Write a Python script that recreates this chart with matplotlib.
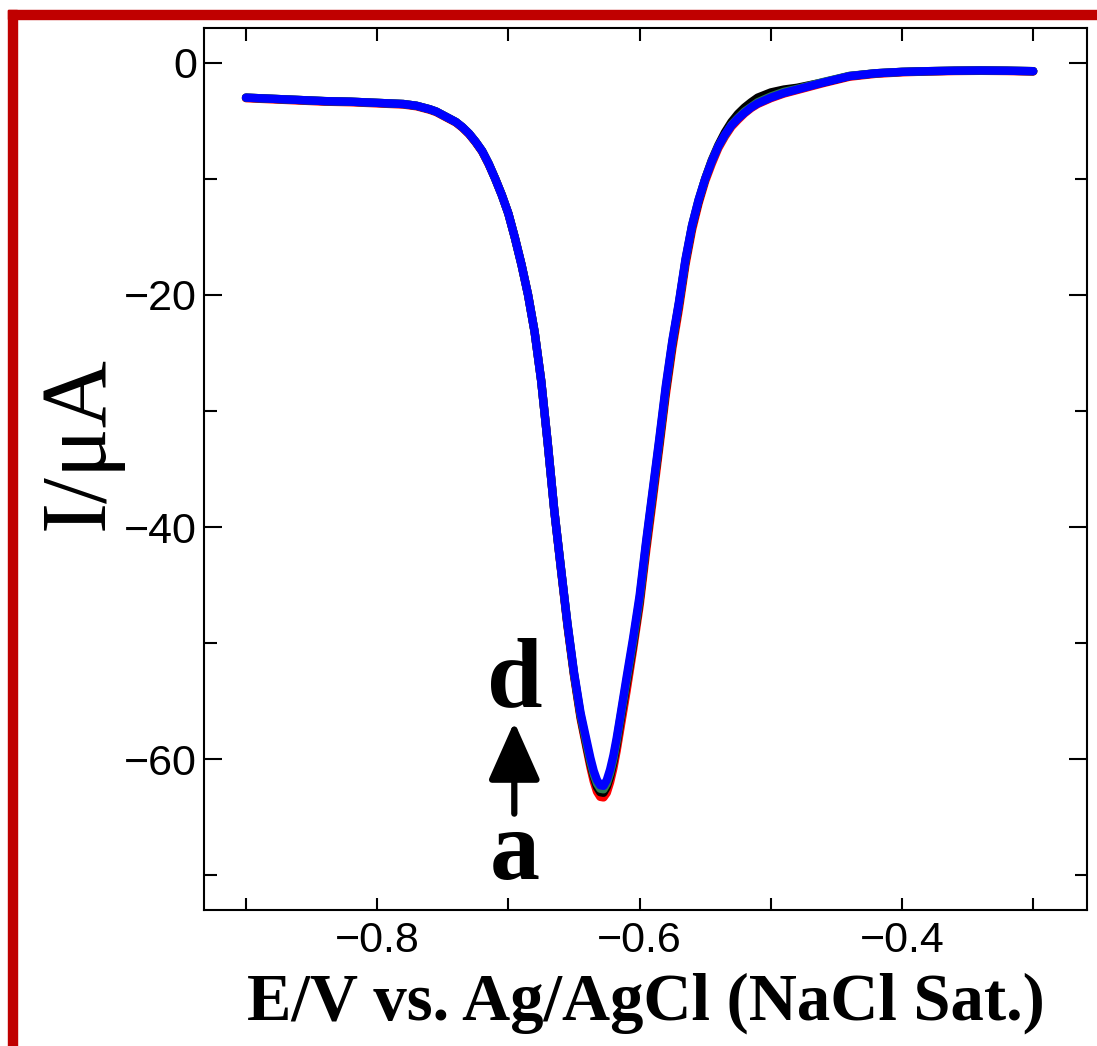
import matplotlib.pyplot as plt
from matplotlib.patches import Rectangle

# potential (V vs Ag/AgCl) and current (uA) for the four scans a-d
potential = [-0.90, -0.88, -0.86, -0.84, -0.82, -0.80, -0.78, -0.77, -0.76, -0.755,
             -0.75, -0.745, -0.74, -0.735, -0.73, -0.725, -0.72, -0.715, -0.71, -0.705,
             -0.70, -0.695, -0.69, -0.685, -0.68, -0.675, -0.67, -0.665, -0.66, -0.655,
             -0.65, -0.645, -0.64, -0.6375, -0.635, -0.6325, -0.63, -0.6275, -0.625, -0.6225,
             -0.62, -0.6175, -0.615, -0.61, -0.605, -0.60, -0.595, -0.59, -0.585, -0.58,
             -0.575, -0.57, -0.565, -0.56, -0.555, -0.55, -0.545, -0.54, -0.535, -0.53,
             -0.525, -0.52, -0.515, -0.51, -0.50, -0.49, -0.48, -0.46, -0.44, -0.42,
             -0.40, -0.38, -0.36, -0.34, -0.32, -0.30]

current_a = [-3.05, -3.15, -3.25, -3.35, -3.4, -3.5, -3.6, -3.75, -4.05, -4.25,
             -4.55, -4.85, -5.15, -5.6, -6.15, -6.85, -7.65, -8.75, -10.0, -11.4,
             -13.0, -15.1, -17.4, -20.0, -23.2, -27.4, -32.8, -38.6, -43.6, -48.5,
             -52.8, -56.5, -59.3, -60.7, -61.9, -62.8, -63.25, -63.3, -62.9, -62.0,
             -60.8, -59.3, -57.6, -54.2, -50.6, -46.8, -42.1, -37.7, -33.2, -28.6,
             -24.6, -21.2, -17.4, -14.4, -12.1, -10.2, -8.7, -7.35, -6.35, -5.5,
             -4.9, -4.35, -3.9, -3.55, -3.05, -2.65, -2.35, -1.75, -1.2, -0.95,
             -0.82, -0.75, -0.71, -0.69, -0.71, -0.75]

current_b = [-3.0, -3.1, -3.2, -3.3, -3.35, -3.45, -3.55, -3.7, -4.0, -4.2,
             -4.5, -4.8, -5.1, -5.55, -6.1, -6.8, -7.6, -8.7, -10.0, -11.4,
             -13.0, -15.1, -17.4, -20.0, -23.2, -27.4, -32.8, -38.6, -43.5, -48.4,
             -52.7, -56.3, -59.1, -60.4, -61.5, -62.4, -62.85, -62.9, -62.4, -61.5,
             -60.3, -58.8, -57.0, -53.6, -50.2, -46.4, -41.6, -37.2, -32.8, -28.2,
             -24.2, -20.8, -17.1, -14.1, -11.9, -10.0, -8.4, -7.1, -6.0, -5.1,
             -4.4, -3.85, -3.4, -3.0, -2.55, -2.3, -2.15, -1.68, -1.14, -0.9,
             -0.78, -0.72, -0.68, -0.66, -0.68, -0.72]

current_c = [-3.0, -3.1, -3.2, -3.3, -3.35, -3.45, -3.55, -3.7, -4.0, -4.2,
             -4.5, -4.8, -5.1, -5.55, -6.1, -6.8, -7.6, -8.7, -10.0, -11.4,
             -13.0, -15.1, -17.4, -20.0, -23.2, -27.4, -32.8, -38.6, -43.5, -48.3,
             -52.6, -56.2, -58.9, -60.2, -61.3, -62.1, -62.55, -62.6, -62.1, -61.2,
             -60.0, -58.5, -56.7, -53.3, -49.9, -46.2, -41.4, -37.0, -32.6, -28.0,
             -24.0, -20.7, -17.0, -14.0, -11.8, -10.0, -8.5, -7.2, -6.25, -5.35,
             -4.75, -4.2, -3.8, -3.4, -2.9, -2.5, -2.25, -1.65, -1.12, -0.9,
             -0.78, -0.72, -0.68, -0.66, -0.68, -0.72]

current_d = [-3.0, -3.1, -3.2, -3.3, -3.35, -3.45, -3.55, -3.7, -4.0, -4.2,
             -4.5, -4.8, -5.1, -5.55, -6.1, -6.8, -7.6, -8.7, -10.0, -11.4,
             -13.0, -15.1, -17.4, -20.0, -23.2, -27.4, -32.8, -38.6, -43.5, -48.3,
             -52.5, -56.0, -58.6, -59.9, -61.0, -61.8, -62.25, -62.3, -61.8, -60.9,
             -59.7, -58.2, -56.5, -53.0, -49.6, -45.9, -41.2, -36.8, -32.4, -27.8,
             -23.9, -20.6, -16.9, -14.0, -11.8, -10.0, -8.5, -7.2, -6.2, -5.4,
             -4.8, -4.3, -3.85, -3.5, -3.0, -2.6, -2.3, -1.7, -1.15, -0.9,
             -0.78, -0.72, -0.68, -0.66, -0.68, -0.72]

scans = [current_a, current_b, current_c, current_d]
colors = ["#ff0000", "#000000", "#2e7d4f", "#0000ff"]

fig = plt.figure(figsize=(10.97, 10.46), dpi=100)

# dark red frame along the top and left edge
fig.patches.append(Rectangle((8 / 1097, 1 - 19 / 1046), 1 - 8 / 1097, 9 / 1046,
                             transform=fig.transFigure, color="#c00000", zorder=0))
fig.patches.append(Rectangle((8 / 1097, 0), 9 / 1097, 1 - 10 / 1046,
                             transform=fig.transFigure, color="#c00000", zorder=0))

ax = fig.add_axes([204 / 1097, 1 - 910 / 1046, 883 / 1097, 882 / 1046])

for current, color in zip(scans, colors):
    ax.plot(potential, current, color=color, lw=6, solid_capstyle="round",
            solid_joinstyle="round")

ax.set_xlim(-0.932, -0.259)
ax.set_ylim(-73, 3)

ax.set_xticks([-0.9, -0.8, -0.7, -0.6, -0.5, -0.4, -0.3])
ax.set_xticklabels(["", "\u22120.8", "", "\u22120.6", "", "\u22120.4", ""])
ax.set_yticks([0, -20, -40, -60])
ax.set_yticklabels(["0", "\u221220", "\u221240", "\u221260"])
ax.set_yticks([-10, -30, -50, -70], minor=True)

ax.tick_params(axis="both", which="both", direction="in", top=True, right=True,
               width=1.5, labelsize=31)
ax.tick_params(axis="y", which="major", length=13, pad=5)
ax.tick_params(axis="y", which="minor", length=9)
ax.tick_params(axis="x", which="major", length=9, pad=8)
for label in ax.get_xticklabels() + ax.get_yticklabels():
    label.set_fontfamily("Liberation Sans")
for spine in ax.spines.values():
    spine.set_linewidth(1.5)

ax.set_xlabel("E/V vs. Ag/AgCl (NaCl Sat.)", fontfamily="Liberation Serif",
              fontweight="bold", fontsize=48, labelpad=8)
fig.text(80 / 1097, 1 - 443 / 1046, "I/\u03bcA", fontfamily="Liberation Serif",
         fontsize=67, rotation=90, ha="center", va="center")

# arrow from scan a up to scan d
ax.annotate("", xy=(-0.6955, -56.8), xytext=(-0.6955, -64.7),
            arrowprops=dict(arrowstyle="-|>,head_length=3.6,head_width=1.6",
                            color="black", lw=4.5, shrinkA=0, shrinkB=0))
ax.text(-0.6955, -53.4, "d", fontfamily="Liberation Serif", fontweight="bold",
        fontsize=72, ha="center", va="center")
ax.text(-0.6955, -68.3, "a", fontfamily="Liberation Serif", fontweight="bold",
        fontsize=72, ha="center", va="center")

fig.savefig("out.png", dpi=100)
